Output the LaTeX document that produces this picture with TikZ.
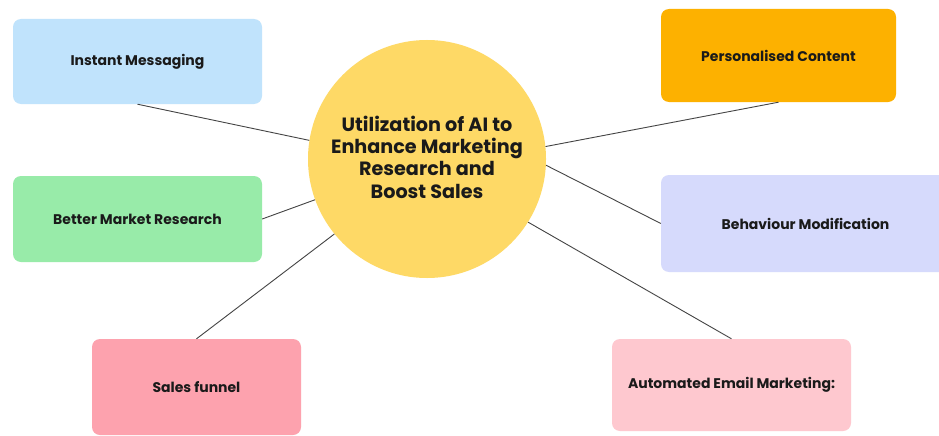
\documentclass[tikz,border=0pt]{standalone}
\usepackage{fontspec}
\setmainfont{Poppins}
\definecolor{cblue}{HTML}{C0E3FC}
\definecolor{cgreen}{HTML}{98EBA9}
\definecolor{cred}{HTML}{FDA2AE}
\definecolor{corange}{HTML}{FDB100}
\definecolor{cviolet}{HTML}{D6DAFC}
\definecolor{cpink}{HTML}{FEC8CF}
\definecolor{cyellow}{HTML}{FED966}
\definecolor{ctext}{HTML}{1A1A1A}
\definecolor{cline}{HTML}{444444}
\begin{document}
\begin{tikzpicture}[x=1pt,y=-1pt,
  box/.style={rectangle, rounded corners=8pt, inner sep=0pt, text=ctext,
    font=\fontsize{14}{16}\selectfont\bfseries},
  hub/.style={circle, fill=cyellow, minimum size=238pt, inner sep=0pt},
  hubtext/.style={text=ctext, align=center, inner sep=0pt,
    font=\fontsize{19.2}{22.3}\selectfont\bfseries},
  link/.style={draw=cline, line width=0.9pt}]
\useasboundingbox[fill=white] (0,0) rectangle (939,436);
\node[box, fill=cblue, minimum width=249pt, minimum height=85pt] (im) at (137.5,61.5) {Instant Messaging};
\node[box, fill=cgreen, minimum width=249pt, minimum height=86pt] (bm) at (137.5,219) {Better Market Research};
\node[box, fill=cred, minimum width=209pt, minimum height=96pt] (sf) at (196.5,387) {Sales funnel};
\node[box, fill=corange, minimum width=235pt, minimum height=93pt] (pc) at (778.5,55.5) {Personalised Content};
\node[box, fill=cviolet, minimum width=289pt, minimum height=97pt] (bh) at (805.5,223.5) {Behaviour Modification};
\node[box, fill=cpink, minimum width=239pt, minimum height=92pt] (ae) at (731.5,385) {Automated Email Marketing:};
\node[hub] (c) at (427,159) {};
\node[hubtext] (ct) at (427,157) {Utilization of AI to\\Enhance Marketing\\Research and\\Boost Sales};
\draw[link] (im.south) -- (c.171.6);
\draw[link] (bm.east) -- (c.200.7);
\draw[link] (sf.north) -- (c.219.6);
\draw[link] (pc.south) -- (c.6.9);
\draw[link] (bh.west) -- (c.-3.9);
\draw[link] (ae.north) -- (c.-32.5);
\end{tikzpicture}
\end{document}
